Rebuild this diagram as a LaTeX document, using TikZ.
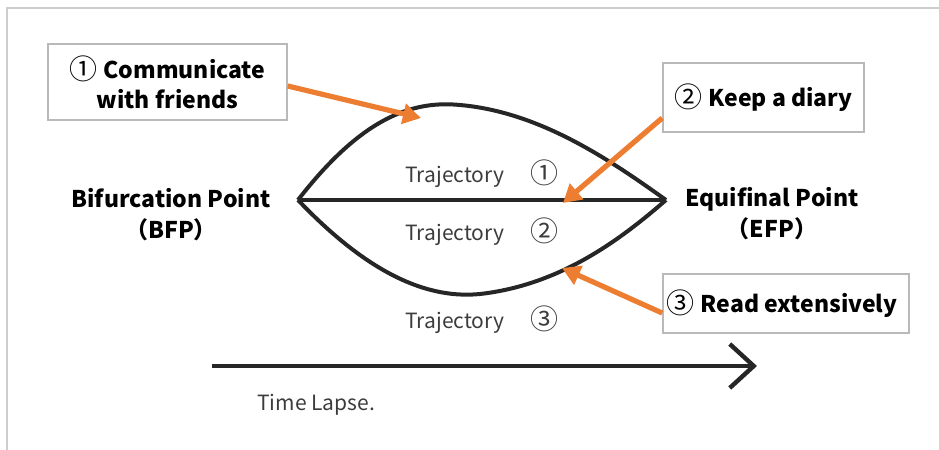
\documentclass[tikz,border=0pt]{standalone}
\usepackage{fontspec}
\setmainfont{Noto Sans CJK JP}
\usetikzlibrary{arrows.meta}
\definecolor{orng}{RGB}{237,125,49}
\definecolor{ink}{RGB}{38,38,38}
\definecolor{frame}{RGB}{205,205,205}
\definecolor{boxline}{RGB}{185,185,185}
\newcommand\bignum[1]{{\mdseries\fontsize{14}{15}\selectfont\raisebox{-0.5pt}{#1}}}
\newcommand\trnum[1]{{\fontsize{14}{12}\selectfont\raisebox{-0.5pt}{#1}}}
\begin{document}
\begin{tikzpicture}[x=0.5pt,y=-0.5pt,
  callout/.style={draw=boxline,line width=0.8pt,fill=white,inner sep=0pt,font=\bfseries\fontsize{11.5}{15}\selectfont,align=center},
  pointlbl/.style={font=\bfseries\fontsize{11.5}{15.5}\selectfont,align=center,inner sep=0pt},
  trajlbl/.style={font=\fontsize{10.5}{12}\selectfont,text=ink!90,inner sep=0pt,anchor=west},
  path/.style={draw=ink,line width=2pt},
  orarrow/.style={draw=orng,line width=2.6pt,-{Triangle[length=9pt,width=10pt]}}]
\useasboundingbox (0,0) rectangle (939,450);
% frame
\draw[frame,line width=0.9pt] (7,450) -- (7,8) -- (939,8);
% points
\coordinate (bfp) at (298,200);
\coordinate (efp) at (666,200);
% trajectories
\draw[path] (bfp) .. controls (360,120) and (410,100) .. (460,105) .. controls (540,112) and (610,160) .. (efp);
\draw[path] (bfp) -- (efp);
\draw[path] (bfp) .. controls (360,265) and (420,300) .. (480,294) .. controls (560,285) and (620,240) .. (efp);
% time arrow
\coordinate (t0) at (212,366);
\coordinate (t1) at (757,366);
\draw[path,line width=2.2pt,-{Straight Barb[length=12pt,width=22pt,line width=2.2pt]}] (t0) -- (t1);
% labels
\node[pointlbl] (bl) at (171,215) {Bifurcation Point\\（BFP）};
\node[pointlbl] (el) at (772,214) {Equifinal Point\\（EFP）};
\node[trajlbl] (t1l) at (405,174) {Trajectory\hspace{13pt}\trnum{①}};
\node[trajlbl] (t2l) at (405,232) {Trajectory\hspace{13pt}\trnum{②}};
\node[trajlbl] (t3l) at (405,320) {Trajectory\hspace{13pt}\trnum{③}};
\node[trajlbl] (tl) at (257,405) {Time Lapse.};
% callouts
\node[callout,minimum width=119.5pt,minimum height=38pt] (c1) at (167.5,82) {\bignum{①}\hspace{3pt}Communicate\\with friends};
\node[callout,minimum width=100.5pt,minimum height=34.5pt] (c2) at (763.5,97.5) {\bignum{②}\hspace{3pt}Keep a diary};
\node[callout,minimum width=123pt,minimum height=29.5pt] (c3) at (786,303.5) {\bignum{③}\hspace{3pt}Read extensively\hspace{4pt}};
% orange arrows
\coordinate (a1e) at (421,118);
\coordinate (a2e) at (563,203);
\coordinate (a3e) at (562,268);
\draw[orarrow] ([yshift=-2pt]c1.east) -- (a1e);
\draw[orarrow] (c2.south west |- 0,118) -- (a2e);
\draw[orarrow] (c3.west |- 0,313) -- (a3e);
\end{tikzpicture}
\end{document}
